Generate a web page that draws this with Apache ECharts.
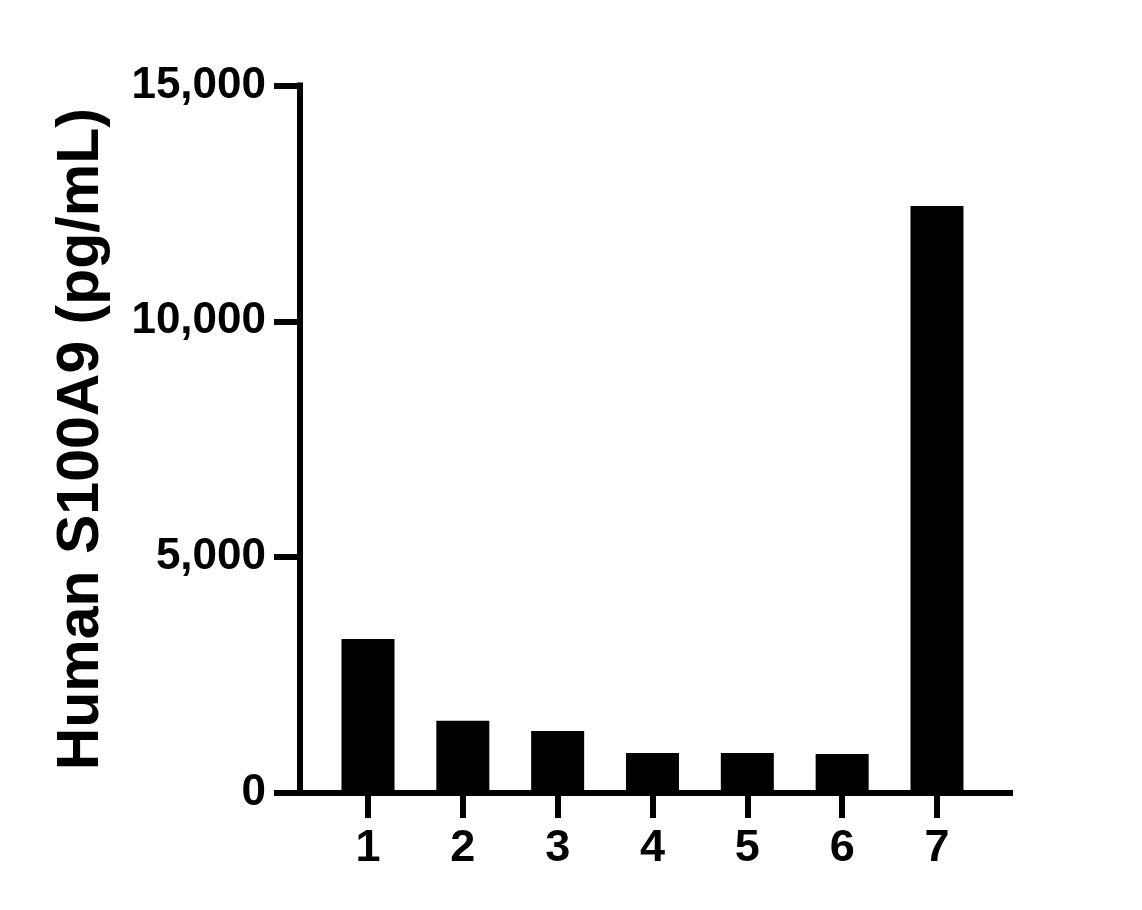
<!DOCTYPE html>
<html>
<head>
<meta charset="utf-8">
<script src="https://cdn.jsdelivr.net/npm/echarts@6/dist/echarts.min.js"></script>
<style>
  html, body { margin: 0; padding: 0; background: #fff; }
  #chart { width: 1142px; height: 910px; }
</style>
</head>
<body>
<div id="chart"></div>
<script>
// sample numbers and measured concentrations (pg/mL)
var samples = [1, 2, 3, 4, 5, 6, 7];
var s100a9 = [3265, 1533, 1314, 848, 848, 827, 12445];
var yTicks = [0, 5000, 10000, 15000];

var fontFam = '"Liberation Sans", Arial, sans-serif';

var barData = [];
for (var i = 0; i < samples.length; i++) {
    barData.push([samples[i], s100a9[i]]);
}

var option = {
    backgroundColor: '#fff',
    animation: false,
    grid: { left: 300, right: 132, top: 85.5, bottom: 117 },
    xAxis: {
        type: 'value',
        min: 0.283,
        max: 7.77,
        splitLine: { show: false },
        axisLine: { show: true, lineStyle: { color: '#000', width: 6, cap: 'square' } },
        axisTick: { show: true, customValues: samples, length: 25, lineStyle: { color: '#000', width: 6 } },
        axisLabel: {
            customValues: samples,
            margin: 33,
            color: '#000',
            fontFamily: fontFam,
            fontWeight: 'bold',
            fontSize: 45
        }
    },
    yAxis: {
        type: 'value',
        min: 0,
        max: 15000,
        interval: 5000,
        name: 'Human S100A9 (pg/mL)',
        nameLocation: 'middle',
        nameGap: 189,
        nameTextStyle: { color: '#000', fontFamily: fontFam, fontWeight: 'bold', fontSize: 59 },
        splitLine: { show: false },
        axisLine: { show: true, lineStyle: { color: '#000', width: 6, cap: 'square' } },
        axisTick: { show: true, length: 26, lineStyle: { color: '#000', width: 6 } },
        axisLabel: {
            customValues: yTicks,
            margin: 34,
            color: '#000',
            fontFamily: fontFam,
            fontWeight: 'bold',
            fontSize: 44,
            formatter: function (v) { return v.toLocaleString('en-US'); }
        }
    },
    series: [{
        type: 'bar',
        data: barData,
        barWidth: 53,
        itemStyle: { color: '#000' }
    }]
};

echarts.init(document.getElementById('chart')).setOption(option);
</script>
</body>
</html>
